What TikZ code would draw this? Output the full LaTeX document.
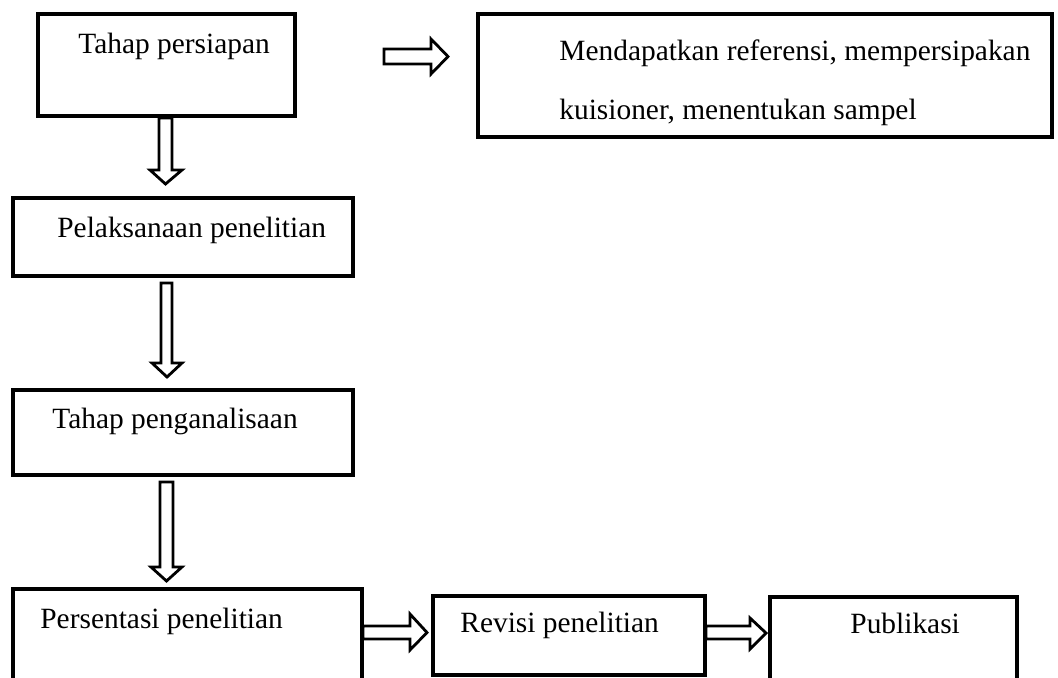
\documentclass[tikz,border=0pt]{standalone}
\usepackage{fontspec}
\setmainfont{Liberation Serif}
\begin{document}
\begin{tikzpicture}[x={(0.5pt,0)},y={(0,-0.5pt)},
  box/.style={draw, line width=1.75pt},
  blockarr/.style={draw, line width=1.4pt, fill=white, line join=miter},
  txt/.style={anchor=base west, inner sep=0pt, font=\fontsize{14.7}{17}\selectfont}]
\useasboundingbox[fill=white] (0,0) rectangle (1058,677);
% boxes
\draw[box] (38,14) coordinate (b1nw) rectangle (295,116) coordinate (b1se);
\draw[box] (478,14) coordinate (bRnw) rectangle (1052,137) coordinate (bRse);
\draw[box] (13,198) coordinate (b2nw) rectangle (353,276) coordinate (b2se);
\draw[box] (13,390) coordinate (b3nw) rectangle (353,475) coordinate (b3se);
\draw[box] (13,589) coordinate (b4nw) rectangle (362,720) coordinate (b4se);
\draw[box] (433,596) coordinate (b5nw) rectangle (705,675) coordinate (b5se);
\draw[box] (770,597) coordinate (b6nw) rectangle (1017,720) coordinate (b6se);
% texts
\node[txt] (t1) at (78,53) {Tahap persiapan};
\node[txt] (tR1) at (559,60) {Mendapatkan referensi, mempersipakan};
\node[txt] (tR2) at (559,119) {kuisioner, menentukan sampel};
\node[txt] (t2) at (57,237) {Pelaksanaan penelitian};
\node[txt] (t3) at (52,428) {Tahap penganalisaan};
\node[txt] (t4) at (40,628) {Persentasi penelitian};
\node[txt] (t5) at (460,632) {Revisi penelitian};
\node[txt] (t6) at (850,633) {Publikasi};
% block arrows
\draw[blockarr] (384,49) -- (431,49) -- (431,39) -- (448,56.5) -- (431,74) -- (431,64) -- (384,64) -- cycle;
\draw[blockarr] (159,118) -- (172,118) -- (172,170) -- (182,170) -- (165.5,184) -- (150,170) -- (159,170) -- cycle;
\draw[blockarr] (161,283) -- (172,283) -- (172,363) -- (182,363) -- (167,377) -- (152,363) -- (161,363) -- cycle;
\draw[blockarr] (160,482) -- (173,482) -- (173,567) -- (182,567) -- (166.5,581) -- (151,567) -- (160,567) -- cycle;
\draw[blockarr] (363,626) -- (410,626) -- (410,614) -- (427,632.5) -- (410,650) -- (410,639) -- (363,639) -- cycle;
\draw[blockarr] (706,626) -- (750,626) -- (750,618) -- (766,633) -- (750,649) -- (750,639) -- (706,639) -- cycle;
\end{tikzpicture}
\end{document}
